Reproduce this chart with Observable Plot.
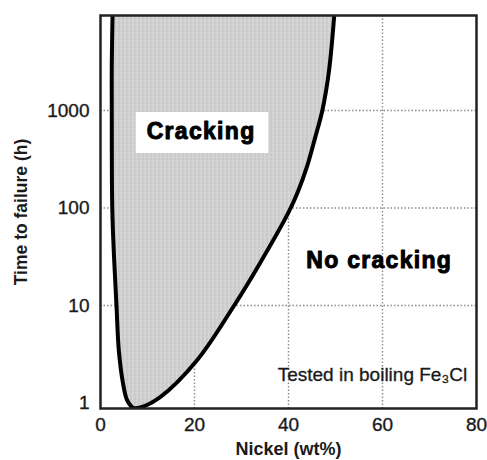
<!DOCTYPE html>
<html><head><meta charset="utf-8">
<script src="https://cdn.jsdelivr.net/npm/d3@7"></script>
<script src="https://cdn.jsdelivr.net/npm/@observablehq/plot@0.6"></script>
<style>body{margin:0;background:#fff}</style>
</head><body><div id="chart"></div>
<script>
// Axis ticks
const nickelTicks = [0, 20, 40, 60, 80];
const hourTicks = [1, 10, 100, 1000];
const gridNi = [20, 40, 60];
const gridHours = [10, 100, 1000];

// Cracking boundary: left branch top->bottom, then right branch bottom->top
const boundaryNi    = [2.6, 2.4, 2.4, 2.5, 2.9, 3.4, 3.9, 4.8, 5.7, 7.0, 8.5, 12.7, 20.5, 28.2, 33.9, 40.0, 42.0, 44.0, 45.7, 47.2, 48.6, 49.9];
const boundaryHours = [12000, 3000, 1000, 100, 30, 10, 3.45, 1.58, 1.06, 0.89, 0.9, 1.15, 2.73, 9.6, 27, 90, 147, 272, 533, 1000, 2510, 12000];

// Region labels
const regionLabels = ["Cracking", "No cracking"];
const regionNi = [21.4, 59.3];
const regionHours = [609, 28.9];
const crackBoxNi = [7.6, 35.8];
const crackBoxHours = [362, 953];

const noteText = "Tested in boiling Fe\u2083Cl";
const noteNi = 78.0;
const noteHours = 1.96;

const boundary = boundaryNi.map((ni, i) => ({ni, hours: boundaryHours[i]}));
const labels = regionLabels.map((t, i) => ({t, ni: regionNi[i], hours: regionHours[i]}));
const box = [{x1: crackBoxNi[0], x2: crackBoxNi[1], y1: crackBoxHours[0], y2: crackBoxHours[1]}];

const chart = Plot.plot({
  width: 487, height: 460,
  marginLeft: 100, marginRight: 11, marginTop: 15, marginBottom: 52,
  style: {fontFamily: "'Liberation Sans', Arial, sans-serif", fontSize: "19px", color: "#1a1a1a", background: "#fff"},
  x: {domain: [0, 80], ticks: nickelTicks, tickSize: 0, tickPadding: 9, label: null, tickFormat: d => String(d)},
  y: {type: "log", domain: [0.878, 9420], ticks: hourTicks, tickFormat: d => String(d), tickSize: 0, tickPadding: 11, label: null},
  marks: [
    Plot.ruleX(gridNi, {x: d => d, stroke: "#8a8a8a", strokeWidth: 1.4, strokeDasharray: "1.5,2"}),
    Plot.ruleY(gridHours, {y: d => d, stroke: "#8a8a8a", strokeWidth: 1.4, strokeDasharray: "1.5,2"}),
    Plot.line(boundary, {x: "ni", y: "hours", curve: "catmull-rom", fill: "url(#crackTexture)", stroke: "#000", strokeWidth: 4, clip: true}),
    Plot.rect(box, {x1: "x1", x2: "x2", y1: "y1", y2: "y2", fill: "#fff"}),
    Plot.text(labels, {x: "ni", y: "hours", text: "t", fontSize: 23, fontWeight: "bold", fill: "#000", stroke: "#000", strokeWidth: 1}),
    Plot.text([noteText], {x: () => noteNi, y: () => noteHours, text: d => d, textAnchor: "end", fontSize: 19, fill: "#1a1a1a", stroke: "#1a1a1a", strokeWidth: 0.3}),
    Plot.text(["Nickel (wt%)"], {frameAnchor: "bottom", dy: 41, lineAnchor: "middle", textAnchor: "middle", text: d => d, fontWeight: "bold", fontSize: 18, fill: "#1a1a1a"}),
    Plot.text(["Time to failure (h)"], {frameAnchor: "left", dx: -79, rotate: -90, textAnchor: "middle", lineAnchor: "middle", text: d => d, fontWeight: "bold", fontSize: 17.5, fill: "#1a1a1a"}),
    Plot.frame({stroke: "#222", strokeWidth: 2.5})
  ]
});

const svg = d3.select(chart);
const defs = svg.insert("defs", ":first-child");
const pat = defs.append("pattern").attr("id", "crackTexture").attr("patternUnits", "userSpaceOnUse").attr("width", 4).attr("height", 4);
pat.append("rect").attr("width", 4).attr("height", 4).attr("fill", "#c8c8c8");
pat.append("rect").attr("width", 1).attr("height", 4).attr("fill", "#dedede");
pat.append("rect").attr("width", 4).attr("height", 1).attr("fill", "#d4d4d4");
svg.selectAll("text").filter(function() { return regionLabels.includes(this.textContent); }).style("letter-spacing", "1.3px");
svg.selectAll("g[aria-label$='tick label'] text").attr("stroke", "#1a1a1a").attr("stroke-width", 0.35);
document.getElementById("chart").appendChild(chart);
</script>
</body></html>
